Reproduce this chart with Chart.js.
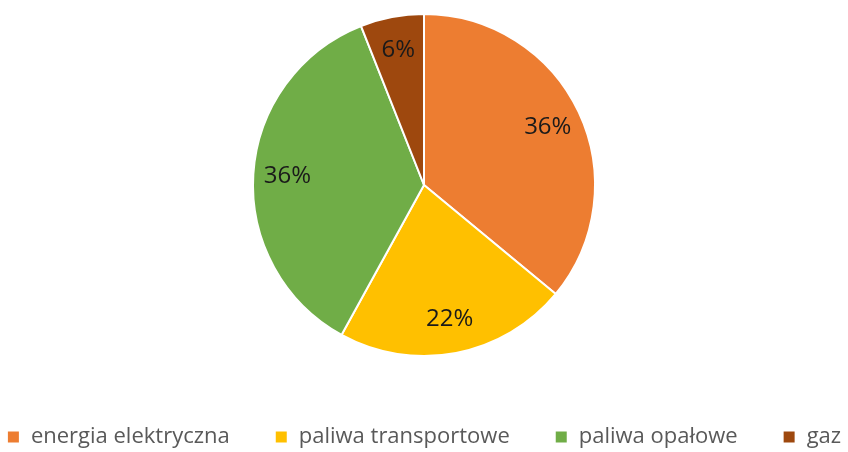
<!DOCTYPE html>
<html>
<head>
<meta charset="utf-8">
<script src="https://cdn.jsdelivr.net/npm/chart.js@4"></script>
<style>
  html, body { margin: 0; padding: 0; background: #fff; }
  #wrap { width: 848px; height: 452px; }
</style>
</head>
<body>
<div id="wrap"><canvas id="myChart"></canvas></div>
<script>
const categories = ['energia elektryczna', 'paliwa transportowe', 'paliwa opałowe', 'gaz'];
const shares = [36, 22, 36, 6];
const sliceColors = ['#ED7D31', '#FFC000', '#70AD47', '#9E480E'];

// percent labels inside the slices
const sliceLabels = {
  id: 'sliceLabels',
  afterDatasetsDraw(chart) {
    const ctx = chart.ctx;
    const meta = chart.getDatasetMeta(0);
    const total = shares.reduce((a, b) => a + b, 0);
    ctx.save();
    ctx.font = '24px "Open Sans"';
    ctx.fillStyle = '#1a1a1a';
    ctx.textAlign = 'center';
    ctx.textBaseline = 'middle';
    meta.data.forEach((arc, i) => {
      const p = arc.getProps(['x', 'y', 'startAngle', 'endAngle', 'outerRadius']);
      const mid = (p.startAngle + p.endAngle) / 2;
      const r = p.outerRadius * 0.8;
      const txt = Math.round(shares[i] / total * 100) + '%';
      ctx.fillText(txt, p.x + Math.cos(mid) * r, p.y + Math.sin(mid) * r);
    });
    ctx.restore();
  }
};

new Chart(document.getElementById('myChart'), {
  type: 'pie',
  data: {
    labels: categories,
    datasets: [{
      data: shares,
      backgroundColor: sliceColors,
      borderColor: '#ffffff',
      borderWidth: 2
    }]
  },
  options: {
    responsive: true,
    maintainAspectRatio: false,
    animation: false,
    // negative sides so the wide-spaced legend stays on one row
    layout: { padding: { top: 13, left: -42, right: -42, bottom: 0 } },
    plugins: {
      tooltip: { enabled: false },
      legend: {
        position: 'bottom',
        maxHeight: 95,
        title: { display: true, text: '', font: { size: 10, lineHeight: 1 }, padding: { top: 7, bottom: 7 } },
        labels: {
          boxWidth: 13,
          boxHeight: 13,
          padding: 45,
          color: '#595959',
          font: { family: 'Open Sans', size: 22 }
        }
      }
    }
  },
  plugins: [sliceLabels]
});
</script>
</body>
</html>
